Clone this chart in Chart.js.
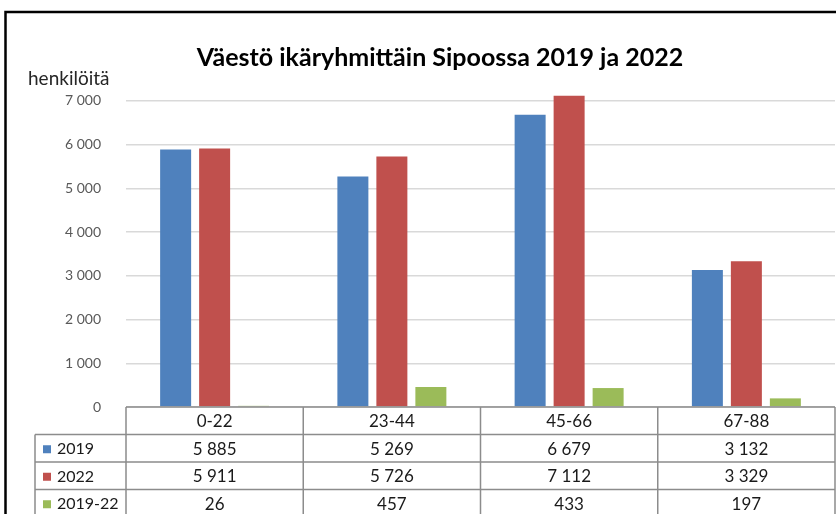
<!DOCTYPE html>
<html>
<head>
<meta charset="utf-8">
<script src="https://cdn.jsdelivr.net/npm/chart.js@4.4.0/dist/chart.umd.min.js"></script>
<style>
  html, body { margin: 0; padding: 0; background: #fff; }
  #wrap { width: 836px; height: 514px; }
</style>
</head>
<body>
<div id="wrap"><canvas id="chart" width="836" height="514"></canvas></div>
<script>
// data
const chartTitle = 'Väestö ikäryhmittäin Sipoossa 2019 ja 2022';
const unitLabel = 'henkilöitä';
const ageGroups = ['0-22', '23-44', '45-66', '67-88'];
const seriesNames = ['2019', '2022', '2019-22'];
const pop2019 = [5885, 5269, 6679, 3132];
const pop2022 = [5911, 5726, 7112, 3329];
const change = [26, 457, 433, 197];
const yTicks = [0, 1000, 2000, 3000, 4000, 5000, 6000, 7000];

const colors = ['#4f81bd', '#c0504d', '#9bbb59'];

const fmt = v => String(v).replace(/\B(?=(\d{3})+(?!\d))/g, ' ');

// frame, title, unit label and the data table under the plot
const tablePlugin = {
    id: 'dataTable',
    afterDraw(chart) {
        const ctx = chart.ctx;
        const x = chart.scales.x;
        const area = chart.chartArea;
        const rows = [pop2019, pop2022, change];
        const rowH = 27.5;
        const top = area.bottom;
        const legLeft = 35;

        ctx.save();
        // outer black frame (only top and left are in view)
        ctx.strokeStyle = '#000';
        ctx.lineWidth = 2.5;
        ctx.beginPath();
        ctx.moveTo(5.5, 530);
        ctx.lineTo(5.5, 12);
        ctx.lineTo(840, 12);
        ctx.stroke();

        // title
        ctx.fillStyle = '#000';
        ctx.font = 'bold 25px Lato';
        ctx.textAlign = 'center';
        ctx.textBaseline = 'middle';
        ctx.fillText(chartTitle, 440, 58);

        // axis unit label
        ctx.fillStyle = '#262626';
        ctx.font = '19px Lato';
        ctx.textAlign = 'left';
        ctx.fillText(unitLabel, 28, 79);

        // table grid
        ctx.strokeStyle = '#8c8c8c';
        ctx.lineWidth = 1.5;
        const step = x.getPixelForTick(1) - x.getPixelForTick(0);
        const colEdges = ageGroups.map((g, i) => x.getPixelForTick(i) - step / 2);
        colEdges.push(area.right);
        ctx.beginPath();
        ctx.moveTo(area.left, top); ctx.lineTo(area.right, top);
        for (let r = 1; r <= 4; r++) {
            ctx.moveTo(legLeft, top + r * rowH);
            ctx.lineTo(area.right, top + r * rowH);
        }
        colEdges.forEach(cx => { ctx.moveTo(cx, top); ctx.lineTo(cx, top + 4 * rowH + 5); });
        ctx.moveTo(legLeft, top + rowH); ctx.lineTo(legLeft, top + 4 * rowH + 5);
        ctx.stroke();

        // texts
        ctx.fillStyle = '#1a1a1a';
        ctx.font = '17px Lato';
        ctx.textAlign = 'center';
        ageGroups.forEach((g, i) => ctx.fillText(g, x.getPixelForTick(i), top + rowH / 2 + 1));
        rows.forEach((vals, r) => {
            const cy = top + (r + 1) * rowH + rowH / 2 + 1;
            ctx.font = '17px Lato';
            ctx.textAlign = 'center';
            vals.forEach((v, i) => ctx.fillText(fmt(v), x.getPixelForTick(i), cy));
            ctx.fillStyle = colors[r];
            ctx.fillRect(43, cy - 4, 8, 8);
            ctx.fillStyle = '#1a1a1a';
            ctx.font = '16px Lato';
            ctx.textAlign = 'left';
            ctx.fillText(seriesNames[r], 57, cy);
        });
        ctx.restore();
    }
};

new Chart(document.getElementById('chart'), {
    type: 'bar',
    data: {
        labels: ageGroups,
        datasets: [
            { label: seriesNames[0], data: pop2019, backgroundColor: colors[0] },
            { label: seriesNames[1], data: pop2022, backgroundColor: colors[1] },
            { label: seriesNames[2], data: change, backgroundColor: colors[2] }
        ]
    },
    options: {
        responsive: false,
        animation: false,
        devicePixelRatio: 1,
        layout: { padding: { left: 0, right: 1, top: 92, bottom: 107 } },
        datasets: {
            bar: { categoryPercentage: 0.66, barPercentage: 0.795 }
        },
        plugins: {
            legend: { display: false },
            tooltip: { enabled: false },
            title: { display: false }
        },
        scales: {
            x: { display: false },
            y: {
                min: 0,
                max: 7200,
                afterBuildTicks: s => { s.ticks = yTicks.map(v => ({ value: v })); },
                afterFit: s => { s.width = 126; },
                border: { display: false },
                grid: { color: '#d9d9d9', lineWidth: 1.5, drawTicks: false },
                ticks: {
                    color: '#595959',
                    font: { family: 'Lato', size: 14 },
                    padding: 25,
                    callback: v => fmt(v)
                }
            }
        }
    },
    plugins: [tablePlugin]
});
</script>
</body>
</html>
